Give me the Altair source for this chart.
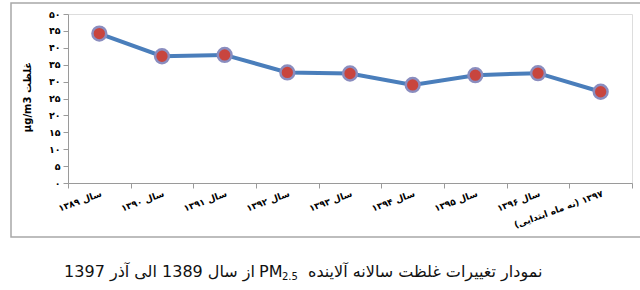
import altair as alt
import pandas as pd

# ---- data ----
years = ["سال ۱۳۸۹", "سال ۱۳۹۰", "سال ۱۳۹۱", "سال ۱۳۹۲", "سال ۱۳۹۳",
         "سال ۱۳۹۴", "سال ۱۳۹۵", "سال ۱۳۹۶", "\u200f۱۳۹۷ (نه ماه ابتدایی)\u200f"]
values = [44.2, 37.5, 37.9, 32.7, 32.4, 29.0, 31.9, 32.5, 27.0]
ytick_values = [0, 5, 10, 15, 20, 25, 30, 35, 40, 45, 50]
ytick_labels = ["۰", "۵", "۱۰", "۱۵", "۲۰", "۲۵", "۳۰", "۳۵", "۴۰", "۴۵", "۵۰"]
y_title = "µg/m3 غلظت"
caption_left = "از سال 1389 الی آذر 1397"
caption_pm = "PM"
caption_sub = "2.5"
caption_right = "نمودار تغییرات غلظت سالانه آلاینده"

df = pd.DataFrame({"year": years, "value": values})

label_expr = "".join(
    f"datum.value == {v} ? '{l}' : " for v, l in zip(ytick_values, ytick_labels)
) + "datum.label"

W, H = 564, 169
FONT = "DejaVu Sans"
GREY = "#9a9a9a"

x_enc = alt.X(
    "year:N", sort=years, bandPosition=0.5,
    scale=alt.Scale(type="band", paddingInner=0, paddingOuter=0),
    axis=alt.Axis(title=None, tickBand="extent", labelAngle=-20, labelAlign="right",
                  labelBaseline="top", labelPadding=1, labelFont=FONT,
                  labelFontWeight="bold", labelFontSize=9, labelColor="#000",
                  labelOverlap=False,
                  tickSize=5, tickColor=GREY, domainColor=GREY),
)
y_enc = alt.Y(
    "value:Q",
    scale=alt.Scale(domain=[0, 50], nice=False),
    axis=alt.Axis(title=y_title, values=ytick_values, labelExpr=label_expr,
                  grid=False, labelFont=FONT, labelFontWeight="bold",
                  labelFontSize=9.5, labelColor="#000", labelPadding=3,
                  labelOverlap=False,
                  tickSize=5, tickColor=GREY, domainColor=GREY,
                  titleFont=FONT, titleFontWeight="bold", titleFontSize=10,
                  titleColor="#000", titleX=-36, titleY=H / 2 - 2),
)

base = alt.Chart(df).encode(x=x_enc, y=y_enc)
line = base.mark_line(color="#4A7EBB", strokeWidth=4)
pts = base.mark_point(filled=True, fill="#C8453E", stroke="#8A8DBF",
                      strokeWidth=2.5, size=190, opacity=1, fillOpacity=1)

frame = alt.Chart(pd.DataFrame({"k": [0]})).mark_rect(
    fillOpacity=0, stroke="#a8a8a8", strokeWidth=1.5).encode(
    x=alt.value(-57), x2=alt.value(600), y=alt.value(-11), y2=alt.value(223))

def cap(text, x, y, align, size):
    return alt.Chart(pd.DataFrame({"t": [text]})).mark_text(
        font=FONT, fontSize=size, align=align, baseline="alphabetic", color="#111").encode(
        text="t:N", x=alt.value(x), y=alt.value(y))

caption = (cap(caption_left, 187, 263, "right", 16)
           + cap(caption_pm, 191, 263, "left", 16)
           + cap(caption_sub, 214, 266, "left", 10)
           + cap(caption_right, 240, 263, "left", 16))

chart = alt.layer(frame, line, pts, caption).properties(
    width=W, height=H,
    autosize=alt.AutoSizeParams(type="none"),
    padding={"left": 68, "top": 14, "right": 8, "bottom": 107},
).configure_view(stroke=GREY, strokeWidth=1).configure(background="white")

chart.save("out.html", embed_options={"renderer": "svg", "actions": False})
